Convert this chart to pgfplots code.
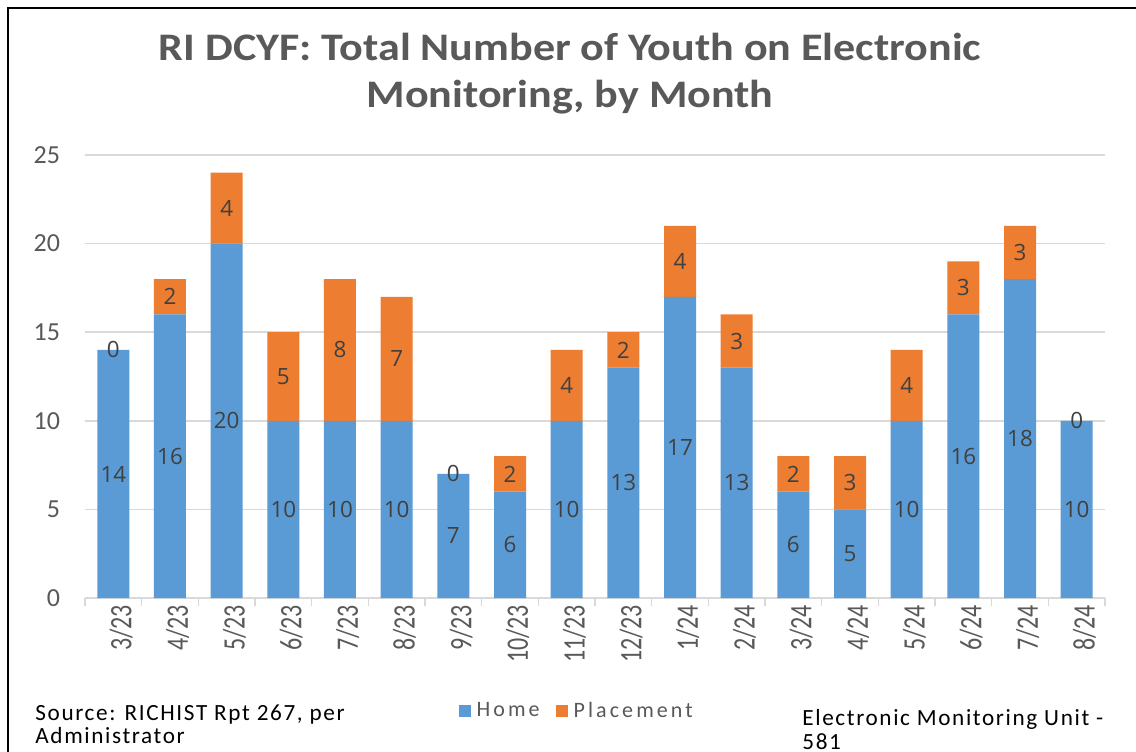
\documentclass[border=0pt]{standalone}
\usepackage{fontspec}
\setmainfont{Carlito}
\newfontfamily\osans{Open Sans}
\newfontfamily\footfont[LetterSpace=7]{Carlito}
\newfontfamily\legfont[LetterSpace=14]{Carlito}
\usepackage{pgfplots}
\usepackage{pgfplotstable}
\pgfplotsset{compat=1.18}
\definecolor{homeblue}{HTML}{5B9BD5}
\definecolor{placeorange}{HTML}{ED7D31}
\definecolor{txtgray}{HTML}{595959}
\definecolor{lblgray}{HTML}{404040}
\definecolor{gridgray}{HTML}{D9D9D9}

\pgfplotstableread{
x lab home place
0 3/23 14 0
1 4/23 16 2
2 5/23 20 4
3 6/23 10 5
4 7/23 10 8
5 8/23 10 7
6 9/23 7 0
7 10/23 6 2
8 11/23 10 4
9 12/23 13 2
10 1/24 17 4
11 2/24 13 3
12 3/24 6 2
13 4/24 5 3
14 5/24 10 4
15 6/24 16 3
16 7/24 18 3
17 8/24 10 0
}\datatable

\begin{document}
\begin{tikzpicture}
\useasboundingbox (-42.5pt,-76.5pt) rectangle (525.5pt,299pt);
\fill[white] (-42.5pt,-76.5pt) rectangle (525.5pt,299pt);
\draw[black, line width=1pt] (-38.5pt,-77pt) -- (-38.5pt,295pt) -- (526pt,295pt);

\begin{axis}[
    at={(0,0)}, anchor=south west,
    scale only axis,
    width=510pt, height=221.5pt,
    ybar stacked,
    bar width=16pt,
    xmin=-0.5, xmax=17.5,
    ymin=0, ymax=25,
    ytick={0,5,...,25},
    xtick=data,
    xticklabels from table={\datatable}{lab},
    minor xtick={-0.5,0.5,...,17.5},
    tick align=outside,
    major tick length=0pt,
    minor tick length=4pt,
    minor tick style={gridgray, line width=0.8pt},
    axis lines*=left,
    x axis line style={gridgray, line width=0.8pt},
    y axis line style={draw=none},
    ymajorgrids,
    grid style={gridgray, line width=0.8pt},
    /pgf/number format/assume math mode=true,
    yticklabel style={font=\fontsize{13}{15}\selectfont, color=txtgray, xshift=-9pt},
    xticklabel style={font=\fontsize{12}{14}\selectfont, color=txtgray, xscale=1.3, rotate=90, anchor=east, yshift=-3pt},
    legend style={at={(0.484,-0.255)}, anchor=center, draw=none, fill=none,
        legend columns=2, font=\legfont\fontsize{11}{13}\selectfont, text=txtgray,
        inner sep=0pt,
        /tikz/every odd column/.append style={column sep=0pt},
        /tikz/every even column/.append style={column sep=5pt},
        nodes={inner xsep=3pt}},
    legend image code/.code={\fill[#1] (0pt,-3pt) rectangle (6pt,3pt);},
]
\addplot[fill=homeblue, draw=none] table[x=x, y=home] {\datatable};
\addplot[fill=placeorange, draw=none] table[x=x, y=place] {\datatable};
\legend{Home, Placement}
\end{axis}

\begin{axis}[
    at={(0,0)}, anchor=south west,
    scale only axis,
    width=510pt, height=221.5pt,
    xmin=-0.5, xmax=17.5,
    ymin=0, ymax=25,
    hide axis,
    nodes near coords,
    point meta=explicit symbolic,
    nodes near coords style={anchor=center, font=\osans\fontsize{11.2}{13}\selectfont, color=lblgray},
]
\addplot[draw=none, mark=none] table[x=x, y expr=\thisrow{home}/2, meta=home] {\datatable};
\addplot[draw=none, mark=none] table[x=x, y expr=\thisrow{home}+\thisrow{place}/2, meta=place] {\datatable};
\end{axis}

\node[font=\bfseries\fontsize{19.5}{23.5}\selectfont, color=txtgray, align=center, xscale=1.13] at (242.5pt,262pt)
    {RI DCYF: Total Number of Youth on Electronic\\Monitoring, by Month};
\node[font=\footfont\fontsize{11.6}{13}\selectfont, anchor=base west, inner sep=0pt] at (-25pt,-61pt) {Source: RICHIST Rpt 267, per};
\node[font=\footfont\fontsize{11.6}{13}\selectfont, anchor=base west, inner sep=0pt] at (-25pt,-72.5pt) {Administrator};
\node[font=\footfont\fontsize{11.6}{13}\selectfont, anchor=base west, inner sep=0pt] at (358.5pt,-63.5pt) {Electronic Monitoring Unit -};
\node[font=\footfont\fontsize{11.6}{13}\selectfont, anchor=base west, inner sep=0pt] at (358.5pt,-75.5pt) {581};
\end{tikzpicture}
\end{document}
